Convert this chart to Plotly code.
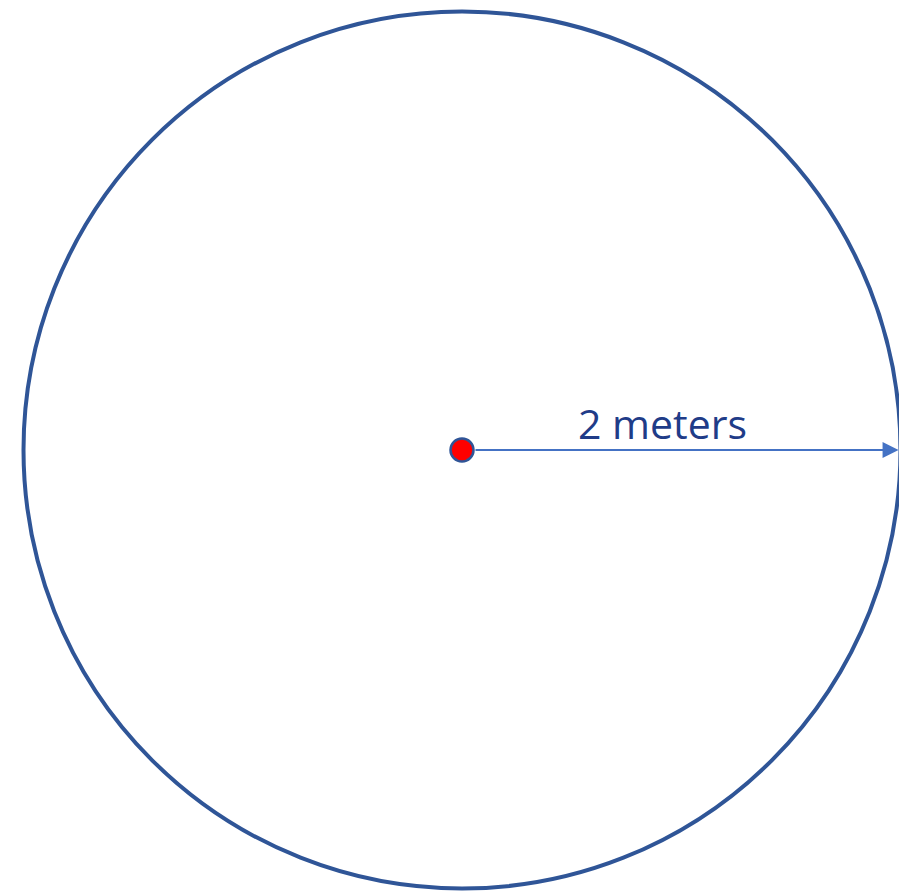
import plotly.graph_objects as go

# data (meters)
radius_m = [2.0]
center_xy = [0.0, 0.0]
label_text = ["2 meters"]

W, H = 899, 892
px_per_m = 219.25
cx_px, cy_px = 462.0, 450.0
xr = [-cx_px / px_per_m, (W - cx_px) / px_per_m]
yr = [-(H - cy_px) / px_per_m, cy_px / px_per_m]

r = radius_m[0]
cx, cy = center_xy

fig = go.Figure()
fig.add_shape(type="circle", xref="x", yref="y",
              x0=cx - r, x1=cx + r, y0=cy - r, y1=cy + r,
              line=dict(color="#2F5597", width=4))

fig.add_trace(go.Scatter(x=[cx], y=[cy], mode="markers",
                         marker=dict(size=23, color="#FF0000",
                                     line=dict(color="#2F5597", width=2.5)),
                         hoverinfo="skip", showlegend=False, cliponaxis=False))

tip_x = min(cx + r, xr[1] - 0.002)
fig.add_annotation(x=tip_x, y=cy, ax=cx, ay=cy, xref="x", yref="y",
                   axref="x", ayref="y", text="", showarrow=True,
                   arrowhead=2, arrowsize=1.6, arrowwidth=2,
                   arrowcolor="#4472C4", startstandoff=12, standoff=0)

fig.add_annotation(x=cx + 0.915, y=cy + 0.125, xref="x", yref="y",
                   text=label_text[0], showarrow=False,
                   font=dict(family="Open Sans", size=41, color="#1F3C88"),
                   xanchor="center", yanchor="middle")

fig.update_xaxes(range=xr, visible=False, fixedrange=True)
fig.update_yaxes(range=yr, visible=False, fixedrange=True)
fig.update_layout(width=W, height=H, margin=dict(l=0, r=0, t=0, b=0),
                  plot_bgcolor="white", paper_bgcolor="white")

fig.write_html("out.html", config={"displayModeBar": False},
               post_script="document.body.style.margin='0';"
                           "document.documentElement.style.overflow='hidden';"
                           "document.body.style.overflow='hidden';")
